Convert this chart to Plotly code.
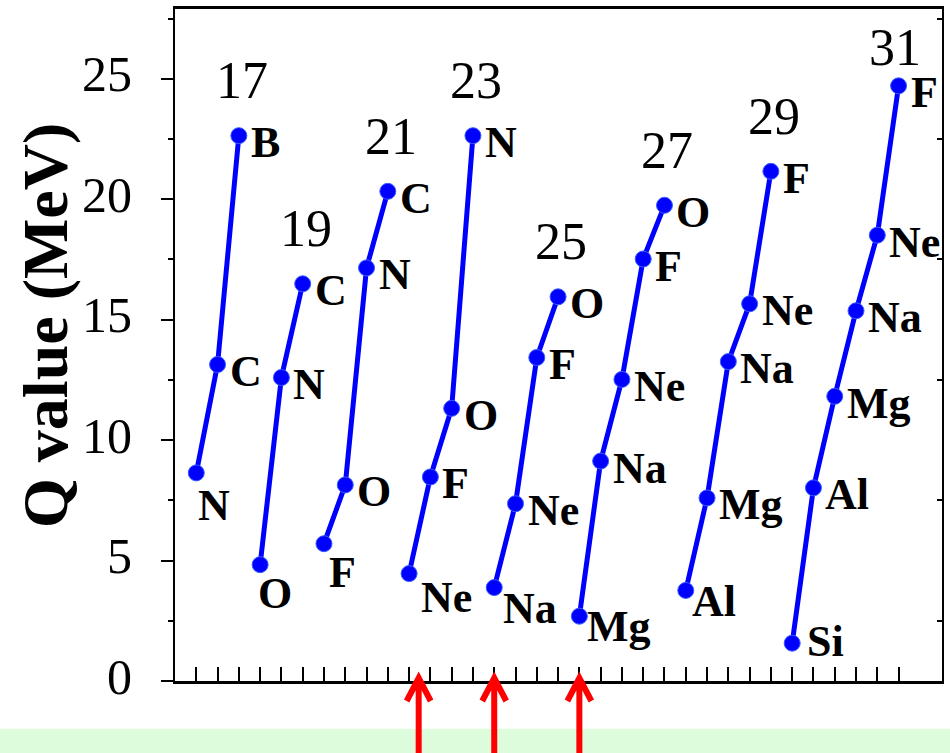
import plotly.graph_objects as go

# ---------------- data ----------------
masses = [17, 19, 21, 23, 25, 27, 29, 31]
elements = [
    ["N", "C", "B"],
    ["O", "N", "C"],
    ["F", "O", "N", "C"],
    ["Ne", "F", "O", "N"],
    ["Na", "Ne", "F", "O"],
    ["Mg", "Na", "Ne", "F", "O"],
    ["Al", "Mg", "Na", "Ne", "F"],
    ["Si", "Al", "Mg", "Na", "Ne", "F"],
]
q_values = [
    [8.64, 13.14, 22.64],
    [4.83, 12.60, 16.49],
    [5.70, 8.14, 17.15, 20.33],
    [4.46, 8.47, 11.32, 22.64],
    [3.88, 7.36, 13.43, 15.95],
    [2.69, 9.13, 12.52, 17.52, 19.75],
    [3.76, 7.60, 13.26, 15.66, 21.16],
    [1.57, 8.02, 11.82, 15.37, 18.51, 24.71],
]
arrow_x = [11.45, 15, 19]
y_tick_vals = [0, 5, 10, 15, 20, 25]
y_minor_vals = [2.5, 7.5, 12.5, 17.5, 22.5, 27.5]
y_label = "Q value (MeV)"

# ---------------- styles ----------------
SERIF = "Liberation Serif, Times New Roman, serif"
BLUE = "#0000ff"
RED = "#ff0000"
# pixel offsets of the label of the lowest member of each chain (dx, dy-up)
bottom_label_off = {17: (0, -33), 19: (-4, -29), 21: (3, -29), 23: (10, -24),
                    25: (7, -21), 27: (6, -10), 29: (4, -11), 31: (13, 2)}
mass_label_off = {31: (-4, 38)}

fig = go.Figure()
annotations = []
xpos = 1
for m, els, qs in zip(masses, elements, q_values):
    xs = list(range(xpos, xpos + len(qs)))
    xpos += len(qs)
    fig.add_trace(go.Scatter(
        x=xs, y=qs, mode="lines+markers",
        line=dict(color=BLUE, width=5),
        marker=dict(size=16, color=BLUE, line=dict(width=1, color="#3a5cff")),
        showlegend=False, hoverinfo="skip"))
    for i, (x, q, el) in enumerate(zip(xs, qs, els)):
        if i == 0:
            dx, dy = bottom_label_off[m]
        else:
            dx, dy = 10, -7
        annotations.append(dict(
            x=x, y=q, xref="x", yref="y", text=el, showarrow=False,
            xanchor="left", yanchor="middle", xshift=dx, yshift=dy,
            font=dict(family=SERIF, size=44, color="black", weight="bold")))
    mdx, mdy = mass_label_off.get(m, (3, 55))
    annotations.append(dict(
        x=xs[-1], y=qs[-1], xref="x", yref="y", text=str(m), showarrow=False,
        xanchor="center", yanchor="middle", xshift=mdx, yshift=mdy,
        font=dict(family=SERIF, size=52, color="black")))

# dummy trace for right-side axis
fig.add_trace(go.Scatter(x=[None], y=[None], yaxis="y2", showlegend=False,
                         hoverinfo="skip"))

annotations.append(dict(
    x=-130 / 769, y=(681 - 324) / 675, xref="paper", yref="paper",
    text=y_label, textangle=-90, showarrow=False,
    xanchor="center", yanchor="middle",
    font=dict(family=SERIF, size=64, color="black", weight="bold")))

shapes = [dict(type="rect", xref="paper", yref="paper",
               x0=-0.3, x1=1.1, y0=-48 / 675, y1=-0.2,
               fillcolor="#dcfcdc", line=dict(width=0), layer="below")]
for ax in arrow_x:
    shapes.append(dict(
        type="path", xref="x", yref="paper",
        xsizemode="pixel", ysizemode="pixel", xanchor=ax, yanchor=0,
        path="M 0,-80 L 0,1 M -12,-20 L 0,3 L 12,-20",
        line=dict(color=RED, width=6), layer="above"))

fig.update_layout(
    width=950, height=753,
    margin=dict(l=175, r=6, t=6, b=72, pad=0),
    plot_bgcolor="white", paper_bgcolor="white",
    showlegend=False,
    annotations=annotations, shapes=shapes,
    xaxis=dict(range=[0, 36.04], showline=True, linecolor="black",
               linewidth=2.5, mirror=True, ticks="inside", ticklen=14,
               tickwidth=2, tickcolor="black",
               tickvals=list(range(1, xpos)), showticklabels=False,
               showgrid=False, zeroline=False),
    yaxis=dict(range=[0, 27.9], showline=True, linecolor="black",
               linewidth=2, mirror=True, ticks="outside", ticklen=12,
               tickwidth=2, tickcolor="black", tickvals=y_tick_vals,
               tickfont=dict(family=SERIF, size=50, color="black"),
               ticklabelstandoff=19, ticklabelshift=-5,
               minor=dict(tickvals=y_minor_vals, ticks="outside",
                          ticklen=5, tickwidth=2, tickcolor="black"),
               showgrid=False, zeroline=False),
    yaxis2=dict(range=[0, 27.9], overlaying="y", side="right",
                showline=False, ticks="inside", ticklen=5, tickwidth=2,
                tickcolor="black", tickvals=y_minor_vals,
                showticklabels=False, showgrid=False, zeroline=False),
)

fig.write_html("out.html")
